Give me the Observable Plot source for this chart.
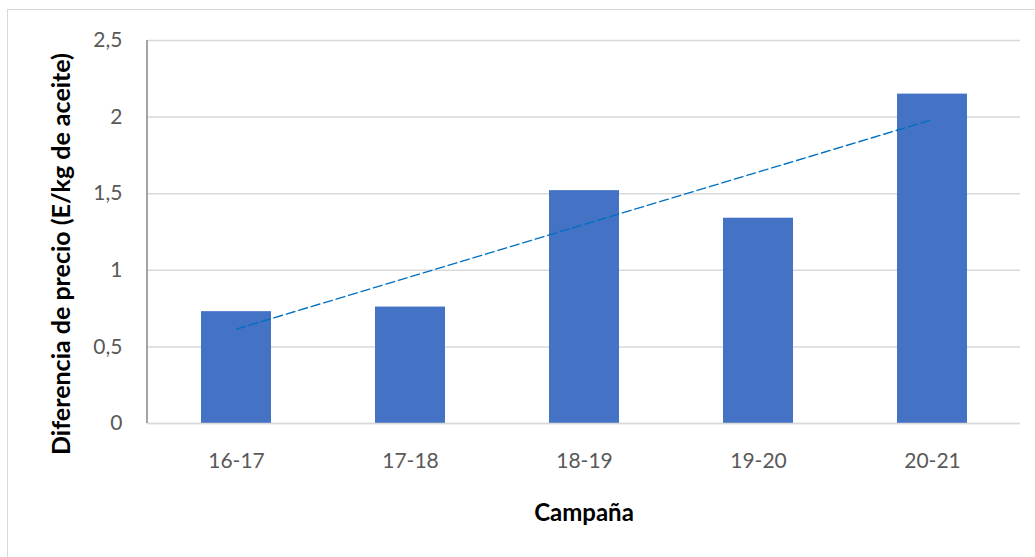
<!DOCTYPE html>
<html>
<head>
<meta charset="utf-8">
<script src="https://cdn.jsdelivr.net/npm/d3@7"></script>
<script src="https://cdn.jsdelivr.net/npm/@observablehq/plot@0.6"></script>
<style>
  html, body { margin: 0; padding: 0; background: #fff; overflow: hidden; width: 1035px; height: 557px; }
  #frame { position: absolute; left: 7px; top: 9px; width: 2000px; height: 2000px; border: 1.5px solid #d9d9d9; box-sizing: border-box; }
  #chart { position: absolute; left: 0; top: 0; }
</style>
</head>
<body>
<div id="frame"></div>
<div id="chart"></div>
<script>
const campanas = ["16-17", "17-18", "18-19", "19-20", "20-21"];
const diferencias = [0.73, 0.76, 1.52, 1.34, 2.15];
const yTicks = [0, 0.5, 1, 1.5, 2, 2.5];
const yTitle = "Diferencia de precio (E/kg de aceite)";
const xTitle = "Campaña";

const data = campanas.map((c, i) => ({campana: c, valor: diferencias[i], idx: i + 1}));

// Linear trend line (least squares) fitted to the series
const mx = d3.mean(data, d => d.idx), my = d3.mean(data, d => d.valor);
const slope = d3.sum(data, d => (d.idx - mx) * (d.valor - my)) / d3.sum(data, d => (d.idx - mx) ** 2);
const intercept = my - slope * mx;
const trend = data.map(d => ({campana: d.campana, y: intercept + slope * d.idx}));

const fmt = v => String(v).replace(".", ",");

// vertical axis line at the left edge of the plot frame
const yAxisLine = (index, scales, values, dimensions) => {
  const {marginLeft, marginTop, height, marginBottom} = dimensions;
  const line = document.createElementNS("http://www.w3.org/2000/svg", "line");
  line.setAttribute("x1", marginLeft);
  line.setAttribute("x2", marginLeft);
  line.setAttribute("y1", marginTop);
  line.setAttribute("y2", height - marginBottom);
  line.setAttribute("stroke", "#868686");
  line.setAttribute("stroke-width", 1.5);
  return line;
};

const chart = Plot.plot({
  width: 1035,
  height: 557,
  marginLeft: 147,
  marginRight: 15,
  marginTop: 40,
  marginBottom: 134,
  style: {fontFamily: "Lato, sans-serif", background: "transparent", overflow: "visible"},
  x: {domain: campanas, paddingInner: 0.6, paddingOuter: 0.3, label: null},
  y: {domain: [0, 2.5], label: null},
  marks: [
    Plot.gridY(yTicks, {stroke: "#d9d9d9", strokeOpacity: 1, strokeWidth: 1.5}),
    Plot.barY(data, {x: "campana", y: "valor", fill: "#4472c4"}),
    Plot.line(trend, {x: "campana", y: "y", stroke: "#0070c0", strokeWidth: 1.4, strokeDasharray: "9,4"}),
    Plot.ruleY([0], {stroke: "#d9d9d9", strokeWidth: 1.5}),
    yAxisLine,
    Plot.axisY(yTicks, {tickSize: 0, tickPadding: 25, tickFormat: fmt, fontSize: 21, fill: "#595959", label: null}),
    Plot.axisX({tickSize: 0, tickPadding: 30, fontSize: 21, fill: "#595959", label: null}),
    Plot.text([xTitle], {frameAnchor: "bottom", dy: 97, fontSize: 24, fontWeight: "bold", fill: "#000"}),
    Plot.text([yTitle], {frameAnchor: "left", textAnchor: "middle", dx: -86, dy: 22, rotate: -90, fontSize: 25, fontWeight: "bold", fill: "#000"})
  ]
});
document.getElementById("chart").appendChild(chart);
</script>
</body>
</html>
